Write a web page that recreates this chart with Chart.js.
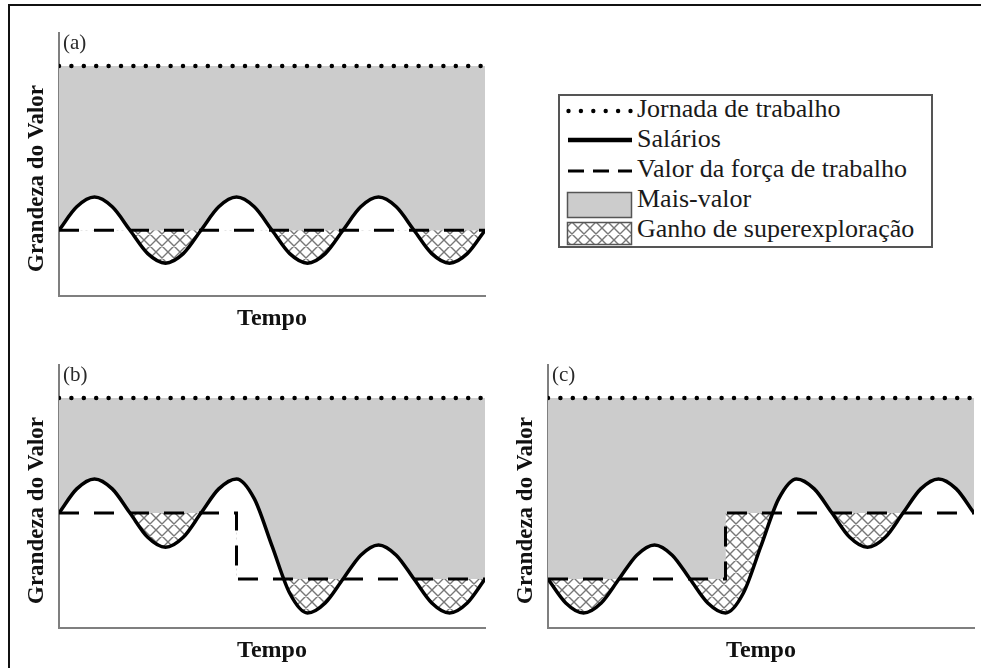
<!DOCTYPE html>
<html lang="pt">
<head>
<meta charset="utf-8">
<script src="https://cdn.jsdelivr.net/npm/chart.js@4.4.1/dist/chart.umd.min.js"></script>
<style>
  html, body { margin: 0; padding: 0; background: #fff; overflow: hidden; }
  body { width: 981px; height: 668px; position: relative; font-family: "Liberation Serif", "Times New Roman", serif; }
  #moldura-topo { position: absolute; left: 8px; top: 4px; width: 973px; height: 2px; background: #111; }
  #moldura-esq { position: absolute; left: 8px; top: 4px; width: 2px; height: 664px; background: #111; }
  canvas { position: absolute; }
  #pa { left: 0; top: 0; }
  #pb { left: 0; top: 350px; }
  #pc { left: 490px; top: 350px; }
  #legenda { position: absolute; left: 558px; top: 94px; width: 375px; height: 154px; box-sizing: border-box; border: 2px solid #555; background: #fff; }
  .item { position: absolute; left: 77px; height: 30px; line-height: 30px; font-size: 26px; color: #1a1a1a; white-space: nowrap; }
  #amostras { left: 566px; top: 96px; }
</style>
</head>
<body>
<div id="moldura-topo"></div>
<div id="moldura-esq"></div>
<canvas id="pa" width="500" height="340"></canvas>
<canvas id="pb" width="500" height="318"></canvas>
<canvas id="pc" width="491" height="318"></canvas>
<div id="legenda"></div>
<canvas id="amostras" width="68" height="152"></canvas>
<script>
// tempo (eixo x) e valores
const tempo = [0, 0.125, 0.25, 0.375, 0.5, 0.625, 0.75, 0.875, 1, 1.125, 1.25, 1.375, 1.5,
               1.625, 1.75, 1.875, 2, 2.125, 2.25, 2.375, 2.5, 2.625, 2.75, 2.875, 3];

const salariosA = [2.5, 3.39, 3.76, 3.39, 2.5, 1.61, 1.25, 1.61, 2.5, 3.39, 3.76, 3.39, 2.5,
                   1.61, 1.25, 1.61, 2.5, 3.39, 3.76, 3.39, 2.5, 1.61, 1.25, 1.61, 2.5];
const salariosB = [4.37, 5.29, 5.67, 5.29, 4.37, 3.45, 3.07, 3.45, 4.37, 5.29, 5.67, 4.92, 3.12,
                   1.32, 0.57, 0.95, 1.86, 2.77, 3.16, 2.77, 1.86, 0.95, 0.57, 0.95, 1.86];
const salariosC = [1.86, 0.95, 0.57, 0.95, 1.86, 2.77, 3.16, 2.77, 1.86, 0.95, 0.57, 1.32, 3.12,
                   4.92, 5.67, 5.29, 4.37, 3.45, 3.07, 3.45, 4.37, 5.29, 5.67, 5.29, 4.37];

const jornadaX = [0, 3];
const jornada = [8.75, 8.75];

const forcaXA = [0, 3];
const forcaA = [2.5, 2.5];
const forcaXB = [0, 1.25, 1.25, 3];
const forcaB = [4.37, 4.37, 1.86, 1.86];
const forcaXC = [0, 1.25, 1.25, 3];
const forcaC = [1.86, 1.86, 4.37, 4.37];

const letras = ["(a)", "(b)", "(c)"];
const legendaRotulos = ["Jornada de trabalho", "Salários", "Valor da força de trabalho",
                        "Mais-valor", "Ganho de superexploração"];

const CINZA = "#cccccc";

function hachura() {
    const c = document.createElement("canvas");
    c.width = 12;
    c.height = 12;
    const g = c.getContext("2d");
    g.fillStyle = "#fff";
    g.fillRect(0, 0, 12, 12);
    g.strokeStyle = "#777";
    g.lineWidth = 1.4;
    g.beginPath();
    for (let k = -12; k <= 12; k += 12) {
        g.moveTo(k, 0); g.lineTo(k + 12, 12);
        g.moveTo(k + 12, 0); g.lineTo(k, 12);
    }
    g.stroke();
    return g.createPattern(c, "repeat");
}
const padrao = hachura();

const pares = (xs, ys) => xs.map((x, i) => ({ x: x, y: ys[i] }));

// letra do painel e titulo vertical
const rotulos = {
    id: "rotulos",
    afterDraw(chart, args, opts) {
        const { ctx, chartArea: a } = chart;
        ctx.save();
        ctx.fillStyle = "#2a2a2a";
        ctx.font = '21px "Liberation Serif"';
        ctx.textBaseline = "alphabetic";
        ctx.fillText(opts.letra, a.left + 4, a.top + 16);
        ctx.fillStyle = "#111";
        ctx.font = 'bold 23px "Liberation Serif"';
        ctx.translate(a.left - 16, (a.top + a.bottom) / 2 + 14);
        ctx.rotate(-Math.PI / 2);
        ctx.textAlign = "center";
        ctx.fillText("Grandeza do Valor", 0, 0);
        ctx.restore();
    }
};

function painel(id, letra, salarios, forcaX, forca, geo) {
    const borda = { display: true, color: "#7f7f7f", width: 2 };
    return new Chart(document.getElementById(id), {
        type: "line",
        data: {
            datasets: [
                {
                    label: "Salários",
                    data: pares(tempo, salarios),
                    borderColor: "#000",
                    borderWidth: 3.5,
                    cubicInterpolationMode: "monotone",
                    pointRadius: 0,
                    fill: { target: 1, above: "rgba(0,0,0,0)", below: padrao }
                },
                {
                    label: "Valor da força de trabalho",
                    data: pares(forcaX, forca),
                    borderColor: "#000",
                    borderWidth: 3,
                    borderDash: [20, 15],
                    tension: 0,
                    pointRadius: 0,
                    fill: false
                },
                {
                    label: "Jornada de trabalho",
                    data: pares(jornadaX, jornada),
                    borderColor: "#000",
                    borderWidth: 4.5,
                    borderDash: [0, 12.4],
                    borderCapStyle: "round",
                    backgroundColor: CINZA,
                    pointRadius: 0,
                    fill: { target: 0, above: CINZA, below: CINZA }
                }
            ]
        },
        options: {
            responsive: false,
            animation: false,
            devicePixelRatio: 1,
            events: [],
            layout: {
                autoPadding: false,
                padding: { top: geo.top, right: geo.right, left: 0, bottom: 0 }
            },
            plugins: {
                legend: { display: false },
                tooltip: { enabled: false },
                filler: { drawTime: "beforeDatasetsDraw" },
                rotulos: { letra: letra }
            },
            scales: {
                x: {
                    type: "linear",
                    min: 0,
                    max: 3,
                    ticks: { display: false },
                    grid: { display: false },
                    border: borda,
                    title: {
                        display: true,
                        text: "Tempo",
                        color: "#111",
                        font: { family: "Liberation Serif", size: 24, weight: "bold" },
                        padding: { top: 0, bottom: geo.pb }
                    },
                    afterFit(s) { s.height = geo.xh; }
                },
                y: {
                    min: 0,
                    max: 10,
                    ticks: { display: false },
                    grid: { display: false },
                    border: borda,
                    afterFit(s) { s.width = geo.yw; }
                }
            }
        },
        plugins: [rotulos]
    });
}

painel("pa", letras[0], salariosA, forcaXA, forcaA, { top: 33, right: 15, yw: 59, xh: 44, pb: 6.6 });
painel("pb", letras[1], salariosB, forcaXB, forcaB, { top: 15, right: 15, yw: 59, xh: 40, pb: 2.6 });
painel("pc", letras[2], salariosC, forcaXC, forcaC, { top: 15, right: 7, yw: 58, xh: 40, pb: 2.6 });

// legenda
const leg = document.getElementById("legenda");
legendaRotulos.forEach((t, i) => {
    const d = document.createElement("div");
    d.className = "item";
    d.style.top = (-2 + i * 30) + "px";
    d.textContent = t;
    leg.appendChild(d);
});

const g = document.getElementById("amostras").getContext("2d");
g.fillStyle = "#000";
for (let i = 0; i < 6; i++) {
    g.beginPath();
    g.arc(2.5 + i * 12.4, 15, 2.2, 0, Math.PI * 2);
    g.fill();
}
g.strokeStyle = "#000";
g.lineWidth = 4.5;
g.beginPath(); g.moveTo(2, 44); g.lineTo(66, 44); g.stroke();
g.lineWidth = 3;
g.setLineDash([16, 9]);
g.beginPath(); g.moveTo(2, 75); g.lineTo(66, 75); g.stroke();
g.setLineDash([]);
g.lineWidth = 1.5;
g.strokeStyle = "#555";
g.fillStyle = CINZA;
g.fillRect(1.5, 96.5, 64, 25);
g.strokeRect(1.5, 96.5, 64, 25);
g.fillStyle = padrao;
g.fillRect(1.5, 126.5, 64, 22);
g.strokeRect(1.5, 126.5, 64, 22);
</script>
</body>
</html>
